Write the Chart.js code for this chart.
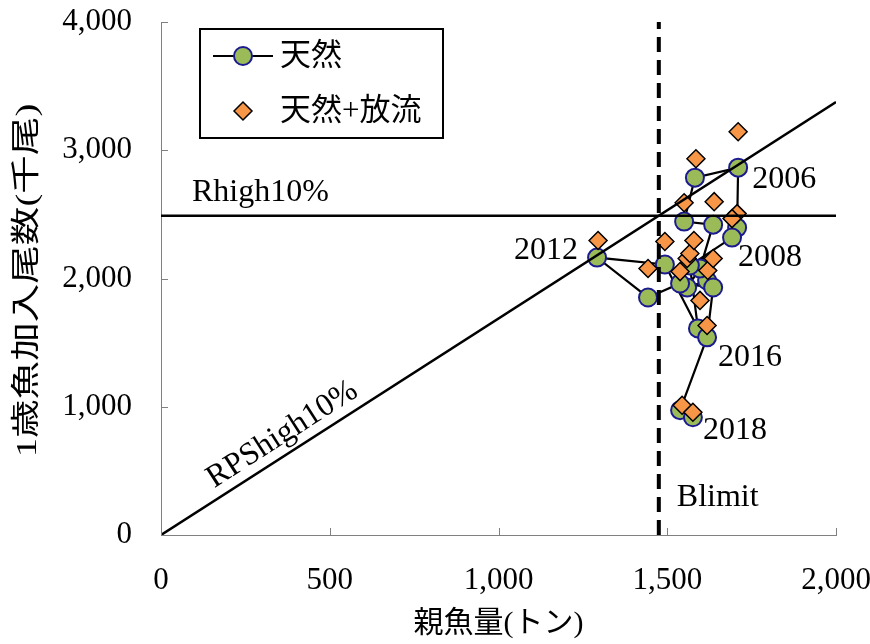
<!DOCTYPE html>
<html>
<head>
<meta charset="utf-8">
<script src="https://cdn.jsdelivr.net/npm/chart.js@4/dist/chart.umd.min.js"></script>
<style>
  html, body { margin: 0; padding: 0; background: #fff; }
  #wrap { width: 870px; height: 644px; }
</style>
</head>
<body>
<div id="wrap"><canvas id="c" width="870" height="644"></canvas></div>
<script>
// Stock–recruitment plot: spawning biomass (t) vs. age-1 recruits (thousand fish)
const years    = [2000,2001,2002,2003,2004,2005,2006,2007,2008,2009,2010,2011,2012,2013,2014,2015,2016,2017,2018];
const wildSSB  = [1618,1559,1597,1636,1550,1582,1710,1707,1692,1567,1591,1493,1292,1443,1538,1636,1618,1538,1576];
const wildRec  = [1984,1930,2078,2420,2444,2786,2864,2397,2319,2101,1611,2109,2163,1852,1961,1930,1541, 973, 918];
const totalSSB = [1620,1559,1567,1639,1550,1585,1710,1707,1692,1579,1597,1493,1295,1443,1538,1636,1618,1544,1576];
const totalRec = [2062,2156,2195,2599,2591,2934,3144,2506,2467,2296,1829,2288,2296,2078,2054,2156,1634,1012, 957];

const blimit = 1475;          // Blimit (t)
const rhigh  = 2490;          // Rhigh10% (thousand fish)
const xTicks = [0, 500, 1000, 1500, 2000];
const yTicks = [0, 1000, 2000, 3000, 4000];
const labelledYears = [2006, 2008, 2012, 2016, 2018];

const SERIF = '"Liberation Serif", "Times New Roman", "Noto Sans CJK JP", serif';
const JP = '"Liberation Serif", "Noto Sans CJK JP", sans-serif';

const wildPts  = years.map((y, i) => ({ x: wildSSB[i],  y: wildRec[i],  year: y }));
const totalPts = years.map((y, i) => ({ x: totalSSB[i], y: totalRec[i], year: y }));
const rpsSlope = rhigh / blimit;

const fmt = v => Number(v).toLocaleString('en-US');

// inward tick marks, text annotations, y-axis title and the framed legend
const decor = {
  id: 'decor',
  afterDraw(chart) {
    const ctx = chart.ctx;
    const xs = chart.scales.x, ys = chart.scales.y;
    const area = chart.chartArea;
    ctx.save();
    // tick marks pointing into the plot
    ctx.strokeStyle = '#808080';
    ctx.lineWidth = 1;
    ctx.beginPath();
    xTicks.forEach(v => {
      const px = Math.round(xs.getPixelForValue(v)) + 0.5;
      ctx.moveTo(px, area.bottom);
      ctx.lineTo(px, area.bottom - 7);
    });
    yTicks.forEach(v => {
      const py = Math.round(ys.getPixelForValue(v)) + 0.5;
      ctx.moveTo(area.left, py);
      ctx.lineTo(area.left + 7, py);
    });
    ctx.stroke();

    // y-axis title, written bottom-to-top with tall glyphs
    ctx.save();
    ctx.translate(28, (area.top + area.bottom) / 2 + 2);
    ctx.rotate(-Math.PI / 2);
    ctx.scale(1.33, 1);
    ctx.fillStyle = '#000';
    ctx.font = '29px ' + JP;
    ctx.textAlign = 'center';
    ctx.textBaseline = 'middle';
    ctx.fillText('1歳魚加入尾数(千尾)', 0, 0);
    ctx.restore();

    // reference-line labels
    ctx.fillStyle = '#000';
    ctx.font = '32px ' + SERIF;
    ctx.textBaseline = 'middle';
    ctx.textAlign = 'left';
    ctx.fillText('Rhigh10%', area.left + 31, ys.getPixelForValue(rhigh) - 23);
    ctx.fillText('Blimit', xs.getPixelForValue(blimit) + 18, area.bottom - 37);

    // RPShigh10% along the diagonal
    const x0 = xs.getPixelForValue(0), y0 = ys.getPixelForValue(0);
    const x1 = xs.getPixelForValue(2000), y1 = ys.getPixelForValue(2000 * rpsSlope);
    const ang = Math.atan2(y1 - y0, x1 - x0);
    const ax = xs.getPixelForValue(390), ay = ys.getPixelForValue(390 * rpsSlope);
    ctx.save();
    ctx.translate(ax, ay);
    ctx.rotate(ang);
    ctx.textAlign = 'center';
    ctx.textBaseline = 'bottom';
    ctx.fillText('RPShigh10%', 0, -3);
    ctx.restore();

    // year labels
    const offs = {
      2006: [14, 12, 'left'],
      2008: [6, 20, 'left'],
      2012: [-19, -7, 'right'],
      2016: [11, 20, 'left'],
      2018: [10, 13, 'left']
    };
    labelledYears.forEach(yr => {
      const i = years.indexOf(yr);
      const px = xs.getPixelForValue(wildSSB[i]);
      const py = ys.getPixelForValue(wildRec[i]);
      const o = offs[yr];
      ctx.textAlign = o[2];
      ctx.fillText(String(yr), px + o[0], py + o[1]);
    });

    // legend
    const lx = 200, ly = 29, lw = 243, lh = 109;
    ctx.fillStyle = '#fff';
    ctx.fillRect(lx, ly, lw, lh);
    ctx.strokeStyle = '#000';
    ctx.lineWidth = 2;
    ctx.strokeRect(lx, ly, lw, lh);
    // line + circle sample
    ctx.beginPath();
    ctx.moveTo(213, 56); ctx.lineTo(273, 56);
    ctx.stroke();
    ctx.beginPath();
    ctx.arc(243, 56, 9, 0, Math.PI * 2);
    ctx.fillStyle = '#9BBB59';
    ctx.fill();
    ctx.strokeStyle = '#1B1B8F';
    ctx.lineWidth = 2;
    ctx.stroke();
    // diamond sample
    ctx.beginPath();
    ctx.moveTo(243 - 9, 111); ctx.lineTo(243, 111 - 9);
    ctx.lineTo(243 + 9, 111); ctx.lineTo(243, 111 + 9);
    ctx.closePath();
    ctx.fillStyle = '#F79646';
    ctx.fill();
    ctx.strokeStyle = '#000';
    ctx.lineWidth = 1.5;
    ctx.stroke();
    ctx.fillStyle = '#000';
    ctx.font = '31px ' + JP;
    ctx.textAlign = 'left';
    ctx.textBaseline = 'middle';
    ctx.fillText('天然', 280, 57);
    ctx.fillText('天然+放流', 280, 112);
    ctx.restore();
  }
};

new Chart(document.getElementById('c'), {
  type: 'scatter',
  data: {
    datasets: [
      {
        label: 'Blimit',
        data: [{ x: blimit, y: 0 }, { x: blimit, y: 4000 }],
        showLine: true, borderColor: '#000', borderWidth: 4, borderDash: [15, 8],
        pointRadius: 0
      },
      {
        label: 'Rhigh10%',
        data: [{ x: 0, y: rhigh }, { x: 2000, y: rhigh }],
        showLine: true, borderColor: '#000', borderWidth: 2.5, pointRadius: 0
      },
      {
        label: 'RPShigh10%',
        data: [{ x: 0, y: 0 }, { x: 2000, y: 2000 * rpsSlope }],
        showLine: true, borderColor: '#000', borderWidth: 2.5, pointRadius: 0
      },
      {
        label: '天然+放流',
        data: totalPts,
        showLine: false,
        pointStyle: 'rectRot', pointRadius: 9,
        pointBackgroundColor: '#F79646', pointBorderColor: '#000', pointBorderWidth: 1.5
      },
      {
        label: '天然',
        data: wildPts,
        showLine: true, borderColor: '#000', borderWidth: 2.2,
        pointStyle: 'circle', pointRadius: 9,
        pointBackgroundColor: '#9BBB59', pointBorderColor: '#1B1B8F', pointBorderWidth: 2
      }
    ]
  },
  options: {
    responsive: false,
    animation: false,
    devicePixelRatio: 1,
    layout: { padding: { top: 22, right: 34, left: 0, bottom: 0 } },
    plugins: { legend: { display: false }, tooltip: { enabled: false } },
    scales: {
      x: {
        type: 'linear', min: 0, max: 2000,
        afterBuildTicks: s => { s.ticks = xTicks.map(v => ({ value: v })); },
        afterFit: s => { s.height = 109; s.paddingLeft = 0; s.paddingRight = 0; },
        grid: { display: false, drawTicks: false },
        border: { display: true, color: '#808080', width: 1 },
        ticks: { callback: fmt, color: '#000', font: { family: SERIF, size: 31 }, padding: 27, maxRotation: 0 },
        title: { display: true, text: '親魚量(トン)', color: '#000', font: { family: JP, size: 30 }, padding: { top: 0, bottom: 2 } }
      },
      y: {
        type: 'linear', min: 0, max: 4000,
        afterBuildTicks: s => { s.ticks = yTicks.map(v => ({ value: v })); },
        afterFit: s => { s.width = 161; s.paddingTop = 0; s.paddingBottom = 0; },
        grid: { display: false, drawTicks: false },
        border: { display: true, color: '#808080', width: 1 },
        ticks: { callback: fmt, color: '#000', font: { family: SERIF, size: 31 }, padding: 29 },
        title: { display: false }
      }
    }
  },
  plugins: [decor]
});
</script>
</body>
</html>
